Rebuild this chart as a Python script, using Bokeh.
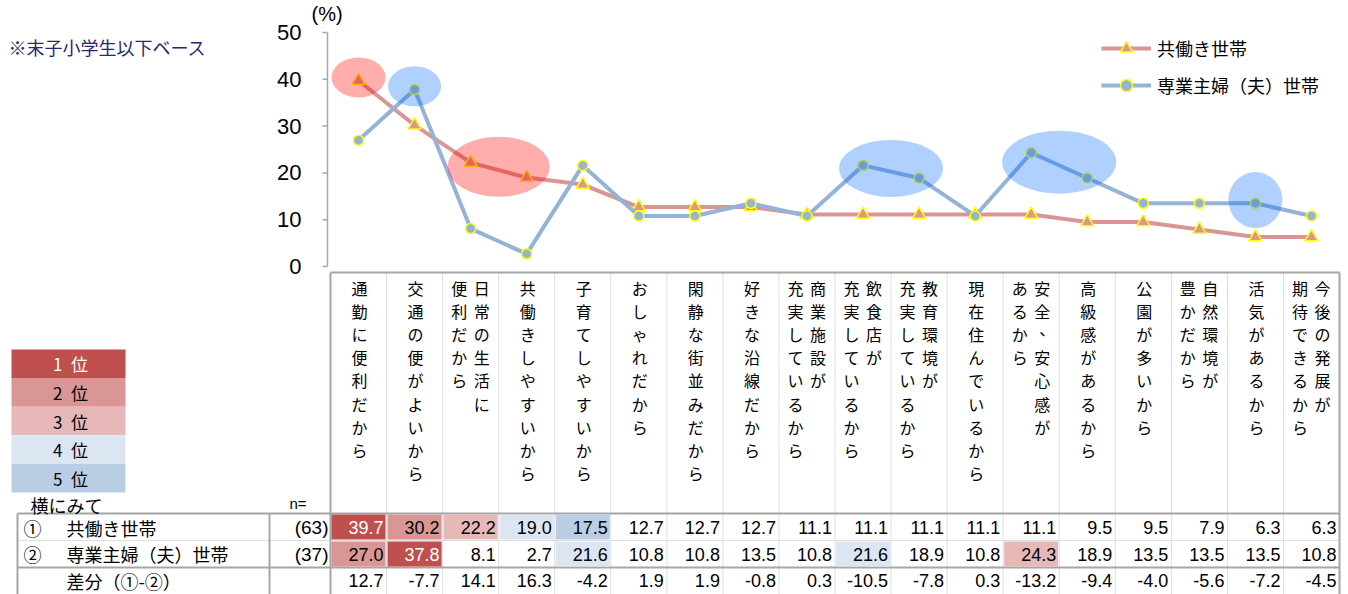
from bokeh.plotting import figure
from bokeh.models import Range1d, Legend, LegendItem
from bokeh.core.properties import value
from bokeh.embed import file_html
from bokeh.resources import INLINE

# ---------------- data ----------------
categories = [
    ["通勤に便利だから"],
    ["交通の便がよいから"],
    ["日常の生活に", "便利だから"],
    ["共働きしやすいから"],
    ["子育てしやすいから"],
    ["おしゃれだから"],
    ["閑静な街並みだから"],
    ["好きな沿線だから"],
    ["商業施設が", "充実しているから"],
    ["飲食店が", "充実しているから"],
    ["教育環境が", "充実しているから"],
    ["現在住んでいるから"],
    ["安全、安心感が", "あるから"],
    ["高級感があるから"],
    ["公園が多いから"],
    ["自然環境が", "豊かだから"],
    ["活気があるから"],
    ["今後の発展が", "期待できるから"],
]
series_names = ["共働き世帯", "専業主婦（夫）世帯"]
dual_income = [39.7, 30.2, 22.2, 19.0, 17.5, 12.7, 12.7, 12.7, 11.1, 11.1, 11.1, 11.1, 11.1, 9.5, 9.5, 7.9, 6.3, 6.3]
single_income = [27.0, 37.8, 8.1, 2.7, 21.6, 10.8, 10.8, 13.5, 10.8, 21.6, 18.9, 10.8, 24.3, 18.9, 13.5, 13.5, 13.5, 10.8]
difference = [12.7, -7.7, 14.1, 16.3, -4.2, 1.9, 1.9, -0.8, 0.3, -10.5, -7.8, 0.3, -13.2, -9.4, -4.0, -5.6, -7.2, -4.5]
row_marks = ["①", "②", ""]
row_labels = ["共働き世帯", "専業主婦（夫）世帯", "差分（①-②）"]
n_values = ["(63)", "(37)"]
y_ticks = [0, 10, 20, 30, 40, 50]
rank_labels = ["1\u2002位", "2\u2002位", "3\u2002位", "4\u2002位", "5\u2002位"]
rank_colors = ["#C0504D", "#D99694", "#E6B9B8", "#DCE6F2", "#B9CDE5"]
highlight_dual = [[0], [2, 3]]
highlight_single = [[1], [9, 10], [12, 13], [16]]
note_text = "※末子小学生以下ベース"
unit_text = "(%)"
header_text = "横にみて"
n_header = "n="

# ---------------- layout helpers (page pixels -> data) ----------------
W, H = 1348, 594
TBL_L, TBL_R = 330, 1339
CW = (TBL_R - TBL_L) / len(categories)
Y0, YS = 266.0, 4.68


def PX(px):
    return (px - TBL_L) / CW


def PY(py):
    return (Y0 - py) / YS


JP = value("Noto Sans CJK JP")
AR = value("Liberation Sans")

p = figure(width=W, height=H, output_backend="svg", toolbar_location=None,
           x_range=Range1d(PX(0), PX(W)), y_range=Range1d(PY(H), PY(0)),
           x_axis_type=None, y_axis_type=None, min_border=0,
           outline_line_color=None, background_fill_color="white",
           border_fill_color="white")
p.xgrid.visible = False
p.ygrid.visible = False

n = len(categories)
xc = [i + 0.5 for i in range(n)]

# ---------------- y axis (manual, inside frame) ----------------
ax_x = PX(327)
p.segment(x0=[ax_x], y0=[min(y_ticks)], x1=[ax_x], y1=[max(y_ticks)],
          line_color="#A6A6A6", line_width=1.5)
p.segment(x0=[PX(322)] * len(y_ticks), y0=y_ticks, x1=[ax_x] * len(y_ticks), y1=y_ticks,
          line_color="#A6A6A6", line_width=1.5)
p.text(x=[PX(301)] * len(y_ticks), y=y_ticks, text=[str(t) for t in y_ticks],
       text_align="right", text_baseline="middle", text_font=AR,
       text_font_size=value("22px"), text_color="black")
p.text(x=[PX(311)], y=[PY(13)], text=[unit_text], text_align="left",
       text_baseline="middle", text_font=AR, text_font_size=value("20px"),
       text_color="black")

# ---------------- lines ----------------
RED, BLUE = "#D99694", "#95B3D7"
r1 = p.line(xc, dual_income, line_color=RED, line_width=4)
s1 = p.scatter(xc, dual_income, marker="triangle", size=13, fill_color=RED,
               line_color="#FFFF00", line_width=1.5)
r2 = p.line(xc, single_income, line_color=BLUE, line_width=4)
s2 = p.scatter(xc, single_income, marker="circle", size=10, fill_color=BLUE,
               line_color="#FFFF00", line_width=1.5)

# ---------------- highlight ellipses ----------------
red_sizes = [(54, 40), (102, 60)]
blue_sizes = [(53, 40), (104, 57), (114, 63), (54, 56)]


def ell(groups, vals, sizes, color, alpha):
    ex = [sum(xc[i] for i in g) / len(g) for g in groups]
    ey = [sum(vals[i] for i in g) / len(g) + 0.7 for g in groups]
    p.ellipse(x=ex, y=ey, width=[s[0] for s in sizes], height=[s[1] for s in sizes],
              width_units="screen", height_units="screen",
              fill_color=color, fill_alpha=alpha, line_color=None)


ell(highlight_dual, dual_income, red_sizes, "#FF0000", 0.32)
ell(highlight_single, single_income, blue_sizes, "#0066FF", 0.31)

# ---------------- legend ----------------
legend = Legend(items=[LegendItem(label=series_names[0], renderers=[r1, s1]),
                       LegendItem(label=series_names[1], renderers=[r2, s2])],
                location=(1101, 494), orientation="vertical",
                glyph_width=50, glyph_height=30, spacing=7, padding=0, margin=0,
                label_standoff=6, border_line_color=None,
                background_fill_alpha=0, label_text_font="Noto Sans CJK JP",
                label_text_font_size="18px", label_text_color="black")
p.add_layout(legend)

# ---------------- note ----------------
p.text(x=[PX(8)], y=[PY(46)], text=[note_text], text_align="left",
       text_baseline="middle", text_font=JP, text_font_size=value("18px"),
       text_color="#28286E")

# ---------------- table grid ----------------
TOP, BOT = 272, 594
GRID = "#A6A6A6"
DOT = "#BFBFBF"
seps = list(range(1, n))
p.segment(x0=seps, y0=[PY(TOP)] * len(seps), x1=seps, y1=[PY(BOT)] * len(seps),
          line_color=DOT, line_width=1, line_dash="1 1")
p.segment(x0=[0, n, 0], y0=[PY(TOP), PY(TOP), PY(TOP)],
          x1=[0, n, n], y1=[PY(BOT), PY(BOT), PY(TOP)],
          line_color=GRID, line_width=2)
ROW_T, ROW_M, ROW_B = 513, 540, 567
p.segment(x0=[PX(17), PX(17)], y0=[PY(ROW_T), PY(ROW_B)],
          x1=[n, n], y1=[PY(ROW_T), PY(ROW_B)], line_color=GRID, line_width=2)
p.segment(x0=[PX(17)], y0=[PY(ROW_M)], x1=[n], y1=[PY(ROW_M)],
          line_color=DOT, line_width=1, line_dash="1 1")
p.segment(x0=[PX(17), PX(269)], y0=[PY(ROW_T)] * 2, x1=[PX(17), PX(269)],
          y1=[PY(BOT)] * 2, line_color=GRID, line_width=2)

# ---------------- vertical category labels ----------------
LABEL_TOP, LABEL_STEP = 287.0, 23.2
cx, cy, ct = [], [], []
for i, parts in enumerate(categories):
    for j, part in enumerate(parts):
        off = 1.0 if len(parts) == 1 else (11.0 if j == 0 else -11.5)
        for k, ch in enumerate(part):
            dx, dy = (5, -6) if ch == "、" else (0, 0)
            cx.append(i + 0.5 + (off + dx) / CW)
            cy.append(PY(LABEL_TOP + k * LABEL_STEP + dy))
            ct.append(ch)
p.text(x=cx, y=cy, text=ct, text_align="center", text_baseline="middle",
       text_font=JP, text_font_size=value("16px"), text_color="black")


# ---------------- heat cells + values ----------------
def ranks(vals):
    return [1 + sum(1 for w in vals if w > v) for v in vals]


ROW_CY = [527, 553.5, 580]
rows = [dual_income, single_income]
for r, vals in enumerate(rows):
    rk = ranks(vals)
    ql, qr, qc = [], [], []
    for i, k in enumerate(rk):
        if k <= 5:
            ql.append(i + 1 / CW)
            qr.append(i + 1 - 1 / CW)
            qc.append(rank_colors[k - 1])
    top = PY(ROW_T + 1) if r == 0 else PY(ROW_M + 1)
    bot = PY(ROW_M - 1) if r == 0 else PY(ROW_B - 1)
    p.quad(left=ql, right=qr, top=[top] * len(ql), bottom=[bot] * len(ql),
           fill_color=qc, line_color=None)
    tc = ["white" if k == 1 else "black" for k in rk]
    p.text(x=[i + 1 - 3 / CW for i in range(n)], y=[PY(ROW_CY[r])] * n,
           text=["%.1f" % v for v in vals], text_align="right",
           text_baseline="middle", text_font=AR, text_font_size=value("18px"),
           text_color=tc)
p.text(x=[i + 1 - 3 / CW for i in range(n)], y=[PY(ROW_CY[2])] * n,
       text=["%.1f" % v for v in difference], text_align="right",
       text_baseline="middle", text_font=AR, text_font_size=value("18px"),
       text_color="black")

p.text(x=[PX(23)] * 2, y=[PY(ROW_CY[0]), PY(ROW_CY[1])], text=row_marks[:2],
       text_align="left", text_baseline="middle", text_font=JP,
       text_font_size=value("18px"), text_color="black")
p.text(x=[PX(66)] * 3, y=[PY(c) for c in ROW_CY], text=row_labels,
       text_align="left", text_baseline="middle", text_font=JP,
       text_font_size=value("18px"), text_color="black")
p.text(x=[PX(328)] * 2, y=[PY(ROW_CY[0]), PY(ROW_CY[1])], text=n_values,
       text_align="right", text_baseline="middle", text_font=AR,
       text_font_size=value("19px"), text_color="black")
p.text(x=[PX(30)], y=[PY(504)], text=[header_text], text_align="left",
       text_baseline="middle", text_font=JP, text_font_size=value("18px"),
       text_color="black")
p.text(x=[PX(289)], y=[PY(503)], text=[n_header], text_align="left",
       text_baseline="middle", text_font=AR, text_font_size=value("15px"),
       text_color="black")

# ---------------- rank legend ----------------
RK_TOP, RK_H = 349.0, 28.6
rt = [PY(RK_TOP + k * RK_H) for k in range(len(rank_labels))]
rb = [PY(RK_TOP + (k + 1) * RK_H) for k in range(len(rank_labels))]
p.quad(left=[PX(11)] * 5, right=[PX(125)] * 5, top=rt, bottom=rb,
       fill_color=rank_colors, line_color=None)
p.text(x=[PX(70)] * 5, y=[(a + b) / 2 for a, b in zip(rt, rb)], text=rank_labels,
       text_align="center", text_baseline="middle", text_font=JP,
       text_font_size=value("17px"),
       text_color=["white"] + ["black"] * 4)

open("out.html", "w").write(file_html(p, INLINE))
